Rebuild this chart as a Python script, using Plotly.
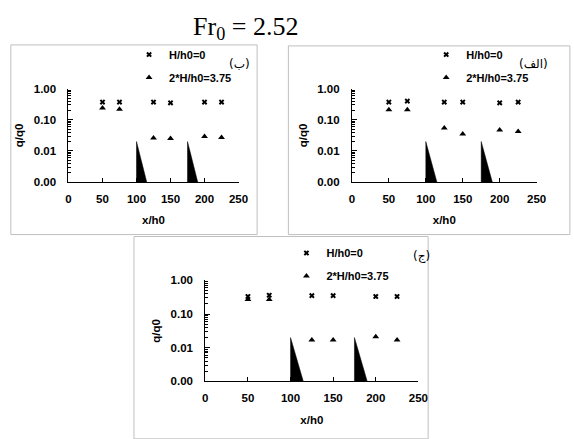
import plotly.graph_objects as go

# datos
x_pos = [50, 75, 125, 150, 200, 225]

# panel (ب)
b_h0 = [0.37, 0.37, 0.37, 0.35, 0.37, 0.37]
b_h375 = [0.24, 0.22, 0.026, 0.025, 0.029, 0.027]
# panel (الف)
a_h0 = [0.37, 0.40, 0.37, 0.37, 0.35, 0.37]
a_h375 = [0.21, 0.21, 0.055, 0.035, 0.047, 0.042]
# panel (ج)
j_h0 = [0.33, 0.36, 0.35, 0.35, 0.33, 0.33]
j_h375 = [0.27, 0.27, 0.017, 0.017, 0.021, 0.017]

# escalones (sills)
sill_x = [[100, 100, 115, 100], [175, 175, 190, 175]]
sill_y = [0.02, 0.001, 0.001, 0.02]

y_tickvals = [0.001, 0.01, 0.1, 1]
y_ticktext = ['0.00', '0.01', '0.10', '1.00']
x_tickvals = [0, 50, 100, 150, 200, 250]

W, H = 574, 439
FONT = 'Liberation Sans'

# (nombre, serie0, serie1, area del grafico en px: x0, x1, ytop, ybot, leyenda x, y, etiqueta)
panels = [
    ('b', b_h0, b_h375, (67, 241, 85, 181), (129, 35), '(ب)'),
    ('a', a_h0, a_h375, (357, 546, 85, 181), (433, 35), '(الف)'),
    ('j', j_h0, j_h375, (207, 425, 282, 386), (290, 239), '(ج)'),
]

fig = go.Figure()
minor_vals = [m * 10 ** e for e in (-3, -2, -1) for m in range(2, 10)]
tfont = dict(family=FONT, size=11.5, color='black', weight='bold')

for i, (key, s0, s1, (px0, px1, pyt, pyb), (lx, ly), lab) in enumerate(panels):
    n = '' if i == 0 else str(i + 1)
    leg = 'legend' + n
    fig.add_trace(go.Scatter(x=x_pos, y=s0, mode='markers', name='H/h0=0',
                             marker=dict(symbol='x', size=5, color='black'),
                             xaxis='x' + n, yaxis='y' + n, legend=leg, legendgroup=key + '0'))
    fig.add_trace(go.Scatter(x=x_pos, y=s1, mode='markers', name='2*H/h0=3.75',
                             marker=dict(symbol='triangle-up', size=6, color='black'),
                             xaxis='x' + n, yaxis='y' + n, legend=leg, legendgroup=key + '1'))
    for sx in sill_x:
        fig.add_trace(go.Scatter(x=sx, y=sill_y, mode='lines', fill='toself',
                                 fillcolor='black', line=dict(color='black', width=0.5),
                                 showlegend=False, hoverinfo='skip',
                                 xaxis='x' + n, yaxis='y' + n))

    fig.layout['xaxis' + n] = dict(
        domain=[px0 / W, px1 / W], range=[0, 250], anchor='y' + n,
        tickvals=x_tickvals, ticks='inside', ticklen=4, tickcolor='black',
        ticklabelstandoff=6,
        showline=True, linecolor='black', linewidth=1, showgrid=False, zeroline=False,
        tickfont=tfont, title=dict(text='x/h0', standoff=12, font=tfont))
    fig.layout['yaxis' + n] = dict(
        domain=[1 - pyb / H, 1 - pyt / H], type='log', range=[-3, 0], anchor='x' + n,
        tickvals=y_tickvals, ticktext=y_ticktext, ticks='inside', ticklen=5, tickcolor='black',
        ticklabelstandoff=9,
        minor=dict(tickvals=minor_vals, ticks='inside', ticklen=3, tickcolor='black', showgrid=False),
        showline=True, linecolor='black', linewidth=1, showgrid=False, zeroline=False,
        tickfont=tfont, title=dict(text='q/q0', standoff=7, font=tfont))
    fig.layout[leg] = dict(
        x=lx / W, y=1 - ly / H, xanchor='left', yanchor='top',
        bgcolor='rgba(0,0,0,0)', traceorder='grouped', tracegroupgap=4,
        font=dict(family=FONT, size=11, color='black', weight='bold'))
    fig.add_annotation(text=lab, xref='paper', yref='paper', x=(px1 + 14) / W,
                       y=1 - (pyt - 25) / H, xanchor='right', yanchor='middle',
                       showarrow=False, font=dict(family='DejaVu Sans', size=12, color='black'))

# marcos de los paneles
for bx0, bx1, by0, by1 in [(8, 260, 40, 235), (292, 580, 41, 235), (134, 435, 237, 445)]:
    fig.add_shape(type='rect', xref='paper', yref='paper',
                  x0=bx0 / W, x1=bx1 / W, y0=1 - by1 / H, y1=1 - by0 / H,
                  line=dict(color='#bfbfbf', width=1), layer='below')

fig.add_annotation(text='Fr<sub>0</sub> = 2.52', xref='paper', yref='paper',
                   x=248 / W, y=1 - 23 / H, xanchor='center', yanchor='middle',
                   showarrow=False, font=dict(family='Liberation Serif', size=26, color='black'))

fig.update_layout(width=W, height=H, margin=dict(l=0, r=0, t=0, b=0),
                  plot_bgcolor='white', paper_bgcolor='white')

fig.write_html('out.html', config={'displayModeBar': False},
               post_script="document.body.style.margin='0';document.body.style.overflow='hidden';")
